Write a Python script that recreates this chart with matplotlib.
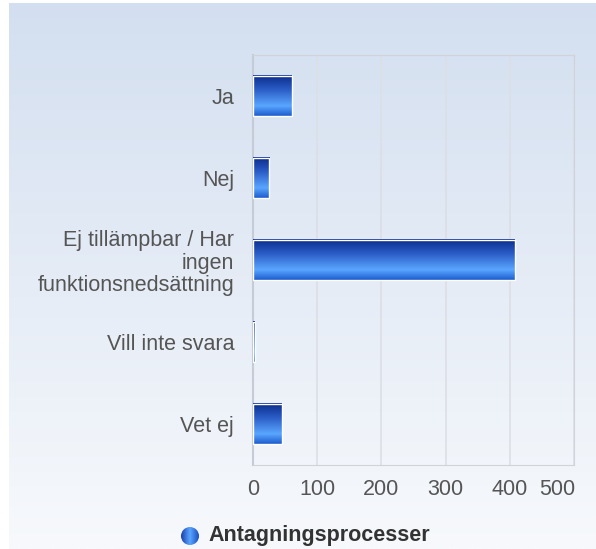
import numpy as np
import matplotlib.pyplot as plt
import matplotlib.transforms as mtransforms
from matplotlib.colors import LinearSegmentedColormap
from matplotlib.patches import Rectangle

plt.rcParams['font.family'] = ['Liberation Sans', 'DejaVu Sans']

categories = ["Ja", "Nej", "Ej tillämpbar / Har\ningen\nfunktionsnedsättning", "Vill inte svara", "Vet ej"]
values = [60, 25, 408, 3, 45]
series_name = "Antagningsprocesser"
x_ticks = [0, 100, 200, 300, 400, 500]

bar_cmap = LinearSegmentedColormap.from_list(
    "bar", [(0.0, "#0b2b8a"), (0.35, "#2a5cc6"), (0.75, "#5aa6ff"), (1.0, "#1c5bcc")])
bg_cmap = LinearSegmentedColormap.from_list("bg", ["#d3dff0", "#f7f9fc"])

fig = plt.figure(figsize=(5.96, 5.49), dpi=100)

# background panel with vertical gradient
bg = fig.add_axes([9 / 596, 0, 1 - 9 / 596, 1 - 3 / 549])
bg.imshow(np.linspace(0, 1, 256).reshape(-1, 1), aspect="auto", cmap=bg_cmap,
          extent=[0, 1, 0, 1])
bg.set_axis_off()

ax = fig.add_axes([253 / 596, 1 - 465 / 549, 321 / 596, 410 / 549])
ax.patch.set_alpha(0)

y = np.arange(len(categories))
bar_h = 0.49
grad = np.linspace(0, 1, 256).reshape(-1, 1)
for yi, v in zip(y, values):
    top, bottom = yi - bar_h / 2, yi + bar_h / 2
    ax.imshow(grad, aspect="auto", cmap=bar_cmap, extent=[0, v, bottom, top],
              zorder=3, interpolation="bilinear")
    edge = Rectangle((0, top), v, bar_h, facecolor="none", edgecolor="white",
                     linewidth=1.0, zorder=4)
    ax.add_patch(edge)

ax.set_xlim(0, 500)
ax.set_ylim(len(categories) - 0.5, -0.5)
ax.set_xticks(x_ticks)
ax.set_yticks(y)
ax.set_yticklabels([])
# category labels, right aligned line by line
for yi, cat in zip(y, categories):
    ax.text(-19 / 321, yi, cat, transform=ax.get_yaxis_transform(),
            ha="right", va="center_baseline", multialignment="right",
            fontsize=15.5, color="#555555", linespacing=1.1)
ax.tick_params(axis="x", labelsize=15.5, labelcolor="#555555", length=0, pad=10)
ax.tick_params(axis="y", length=0)
# last x label kept inside the plot width
last = ax.get_xticklabels()[-1]
last.set_transform(last.get_transform() + mtransforms.ScaledTranslation(-17 / 100, 0, fig.dpi_scale_trans))
ax.grid(axis="x", color="#dcdfe4", linewidth=1.2, zorder=0)
ax.set_axisbelow(True)
for side in ["top", "right", "bottom"]:
    ax.spines[side].set_color("#d0d4da")
ax.spines["left"].set_color("#c5ccd6")
ax.spines["left"].set_linewidth(1.5)

# legend
leg_ax = fig.add_axes([0, 0, 1, 1])
leg_ax.set_axis_off()
circ_grad = np.tile(np.linspace(0, 1, 64), (64, 1))
im = leg_ax.imshow(circ_grad, cmap=LinearSegmentedColormap.from_list(
    "lg", ["#1b3fae", "#5aa6ff", "#1c4fc0"]), extent=[181, 199, 545, 527], zorder=3)
clip = plt.Circle((190, 536), 9, transform=leg_ax.transData)
im.set_clip_path(clip)
leg_ax.set_xlim(0, 596)
leg_ax.set_ylim(549, 0)
leg_ax.set_aspect("auto")
leg_ax.text(208, 536, series_name, fontsize=15.5, fontweight="bold",
            color="#333333", va="center", ha="left")

fig.savefig("out.png", dpi=100)
